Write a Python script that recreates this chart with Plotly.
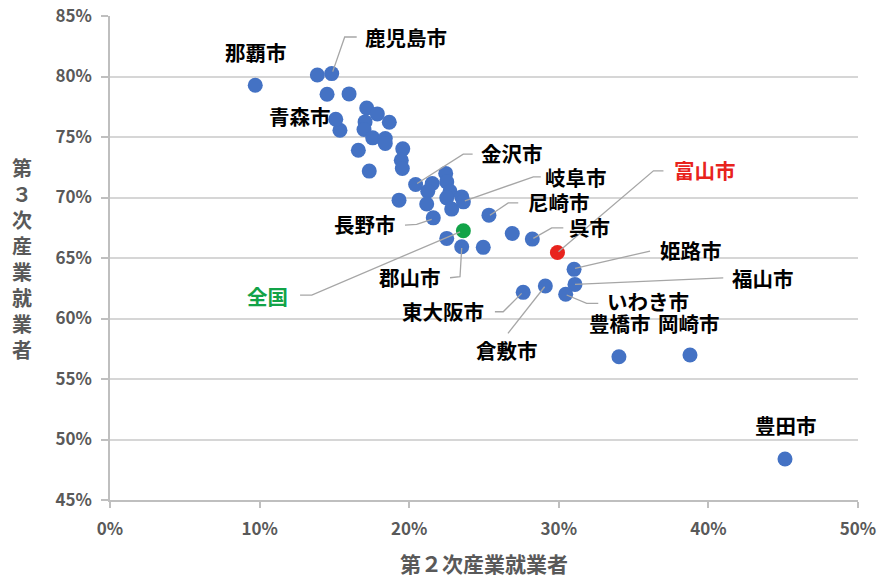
import plotly.graph_objects as go

# ---- data (percent) ----
labeled_names = ["那覇市", "鹿児島市", "青森市", "金沢市", "岐阜市", "長野市", "尼崎市", "郡山市",
                 "呉市", "富山市", "全国", "姫路市", "福山市", "いわき市", "東大阪市", "倉敷市",
                 "豊橋市", "岡崎市", "豊田市"]
labeled_x2 = [9.71, 14.82, 15.09, 20.43, 23.62, 21.61, 25.33, 23.51,
              28.23, 29.91, 23.62, 31.02, 31.08, 30.46, 27.62, 29.10,
              34.02, 38.77, 45.12]
labeled_y3 = [79.28, 80.24, 76.47, 71.08, 69.64, 68.32, 68.54, 65.93,
              66.56, 65.46, 67.25, 64.06, 62.82, 62.00, 62.16, 62.68,
              56.84, 56.98, 48.39]

other_x2 = [13.86, 14.51, 15.98, 17.16, 17.87, 18.67, 15.37, 17.05, 16.98, 17.56,
            18.40, 18.40, 16.60, 19.57, 19.47, 19.54, 17.33, 21.54, 21.24, 22.44,
            22.51, 22.73, 22.51, 23.51, 22.84, 21.17, 19.32, 22.51, 24.95, 26.89]
other_y3 = [80.13, 78.53, 78.56, 77.40, 76.91, 76.22, 75.56, 76.25, 75.62, 74.93,
            74.88, 74.46, 73.91, 74.02, 73.08, 72.40, 72.18, 71.16, 70.52, 71.99,
            71.29, 70.52, 69.97, 70.05, 69.04, 69.46, 69.78, 66.62, 65.88, 67.03]

x_ticks = [0, 10, 20, 30, 40, 50]
y_ticks = [45, 50, 55, 60, 65, 70, 75, 80, 85]

# ---- style / layout ----
W, H = 878, 578
ML, MR, MT, MB = 110, 20, 16, 78
XR = (0, 50)
YR = (45, 85)
PW, PH = W - ML - MR, H - MT - MB
kx = PW / (XR[1] - XR[0])
ky = PH / (YR[1] - YR[0])

BLUE = "#4472C4"
RED = "#E8231D"
GREEN = "#12A348"
GRAY = "#595959"
FONT = "Noto Sans CJK JP"

special_color = {"富山市": RED, "全国": GREEN}

# label text offsets (pixels, dy downward) and leader paths (pixel offsets)
label_off = {
    "那覇市": (1, -33), "鹿児島市": (74, -37), "青森市": (-36, -3), "金沢市": (96, -31),
    "岐阜市": (113, -25), "長野市": (-68, 6), "尼崎市": (70, -13), "郡山市": (-52, 30),
    "呉市": (57, -12), "富山市": (148, -82), "全国": (-196, 65), "姫路市": (117, -19),
    "福山市": (188, -6), "いわき市": (82, 7), "東大阪市": (-80, 19), "倉敷市": (-38, 64),
    "豊橋市": (1, -34), "岡崎市": (-1, -32), "豊田市": (1, -34),
}
leader = {
    "鹿児島市": [(1, -2), (13, -36.6), (25, -36.6)],
    "金沢市": [(1.5, -1), (47.6, -30.3), (57, -30.3)],
    "岐阜市": [(1.5, -1), (70, -25), (77.4, -25)],
    "尼崎市": [(1, 0), (19.3, -12.3), (29.3, -12.3)],
    "呉市": [(1, -0.7), (19.4, -11.3), (31, -11.3)],
    "富山市": [(1, -0.6), (96, -81.6), (106, -81.6)],
    "長野市": [(-1.6, 1.6), (-16.6, 6.6), (-28.3, 7.3)],
    "郡山市": [(0, 1.3), (-1.7, 30), (-11.7, 31)],
    "全国": [(-3.3, 1), (-151.6, 64.3), (-163.3, 64.3)],
    "東大阪市": [(-1.6, 1), (-20, 19.4), (-28.3, 19.4)],
    "倉敷市": [(-0.7, 0.7), (-37.4, 47.3)],
    "姫路市": [(1, -1), (76, -18.3)],
    "福山市": [(0, 0), (148.3, -6.6)],
    "いわき市": [(1, 0.7), (21, 9), (32.6, 9)],
}

fig = go.Figure()

fig.add_trace(go.Scatter(
    x=other_x2, y=other_y3, mode="markers",
    marker=dict(size=15, color=BLUE), hoverinfo="skip", showlegend=False))

fig.add_trace(go.Scatter(
    x=labeled_x2, y=labeled_y3, mode="markers",
    marker=dict(size=15, color=[special_color.get(n, BLUE) for n in labeled_names]),
    text=labeled_names, hoverinfo="text", showlegend=False))

# leader lines
for n, px, py in zip(labeled_names, labeled_x2, labeled_y3):
    if n in leader:
        xs = [px + dx / kx for dx, dy in leader[n]]
        ys = [py - dy / ky for dx, dy in leader[n]]
        fig.add_trace(go.Scatter(x=xs, y=ys, mode="lines",
                                 line=dict(color="#A6A6A6", width=1.3),
                                 hoverinfo="skip", showlegend=False))

annotations = []
for n, px, py in zip(labeled_names, labeled_x2, labeled_y3):
    dx, dy = label_off[n]
    annotations.append(dict(
        x=px, y=py, xref="x", yref="y", text="<b>%s</b>" % n, showarrow=False,
        xshift=dx, yshift=-dy, xanchor="center", yanchor="middle",
        font=dict(family=FONT, size=20.5, color=special_color.get(n, "#000000"))))

# axis titles
annotations.append(dict(
    x=0.5, y=(-(563 - (H - MB)) / PH), xref="paper", yref="paper",
    text="<b>第２次産業就業者</b>", showarrow=False, xanchor="center", yanchor="middle",
    font=dict(family=FONT, size=21, color=GRAY)))
annotations.append(dict(
    x=(22 - ML) / PW, y=((H - MB) - 258) / PH, xref="paper", yref="paper",
    text="<b>" + "<br>".join(list("第３次産業就業者")) + "</b>", showarrow=False,
    xanchor="center", yanchor="middle",
    font=dict(family=FONT, size=20, color=GRAY)))

fig.update_layout(
    width=W, height=H,
    margin=dict(l=ML, r=MR, t=MT, b=MB, pad=0, autoexpand=False),
    paper_bgcolor="white", plot_bgcolor="white",
    annotations=annotations,
    xaxis=dict(range=list(XR), tickvals=x_ticks, ticktext=["%d%%" % v for v in x_ticks],
               automargin=False,
               showgrid=False, zeroline=False, showline=True, linecolor="#BFBFBF", linewidth=1.5,
               ticks="outside", ticklen=6, tickcolor="#BFBFBF", tickwidth=1.5,
               tickfont=dict(family=FONT, size=17, color=GRAY, weight="bold"),
               ticklabelstandoff=7),
    yaxis=dict(range=list(YR), tickvals=y_ticks, ticktext=["%d%%" % v for v in y_ticks],
               automargin=False,
               showgrid=True, gridcolor="#D6D6D6", gridwidth=1.5, zeroline=False,
               showline=True, linecolor="#BFBFBF", linewidth=1.5,
               ticks="outside", ticklen=7, tickcolor="#BFBFBF", tickwidth=1.5,
               tickfont=dict(family=FONT, size=17, color=GRAY, weight="bold"),
               ticklabelstandoff=6),
)

fig.write_html("out.html",
               config={"displayModeBar": False},
               post_script="document.body.style.margin='0';document.body.style.overflow='hidden';")
